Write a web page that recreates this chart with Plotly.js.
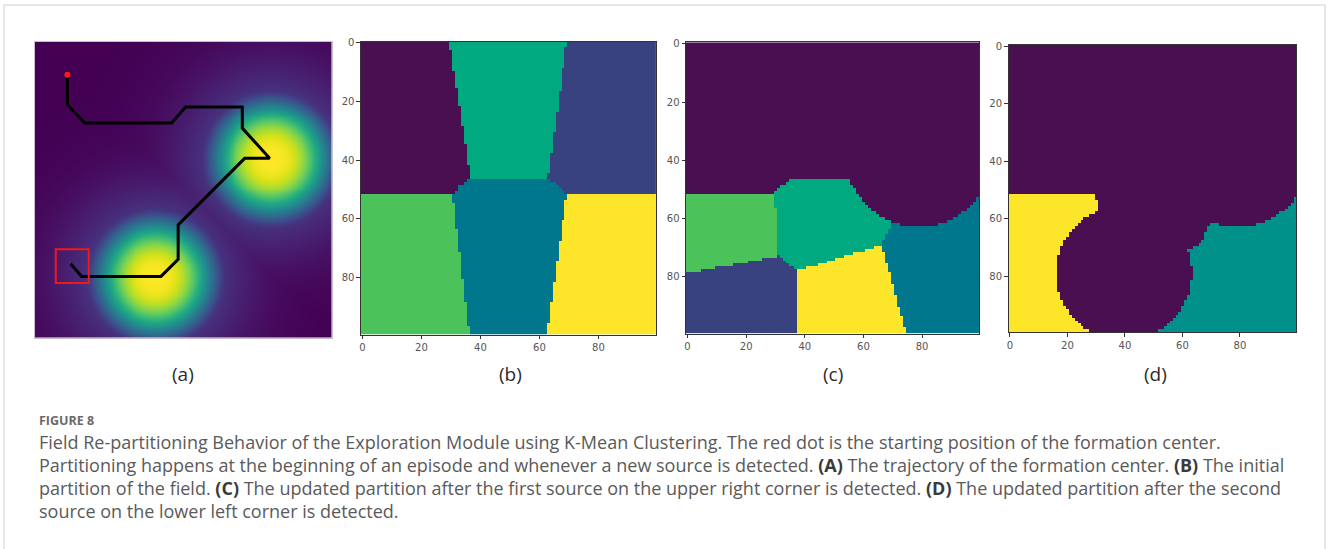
<!DOCTYPE html>
<html>
<head>
<meta charset="utf-8">
<script src="https://cdn.plot.ly/plotly-3.0.1.min.js"></script>
<style>
  html, body { margin: 0; padding: 0; background: #ffffff; }
  #fig { width: 1328px; height: 549px; }
</style>
</head>
<body>
<div id="fig"></div>
<script>
// ---- Panel (a): sources and formation-center trajectory (grid units, y grows downward) ----
const sourceX = [79, 40];
const sourceY = [39, 79];
const sourceSpread = [19, 19];
const sourceRadius = [22.5, 22.5];
const trajX = [10.5, 10.5, 16.4, 45.6, 50.3, 69.4, 69.4, 78.6, 70.2, 47.8, 47.8, 42.0, 15.3, 11.6];
const trajY = [10.7, 20.8, 27.0, 27.0, 21.6, 21.6, 28.7, 38.9, 38.9, 61.4, 73.0, 78.8, 78.8, 74.5];
const startX = [10.5];
const startY = [10.7];
const boxX = [6.6, 17.7];
const boxY = [69.6, 81.0];

// ---- Partition maps: cluster label painted by polygons / discs, later layers on top ----
const tickValues = [0, 20, 40, 60, 80];
const gridSize = 100;

// labels for (b) and (c): 0 purple, 1 blue, 2 teal, 3 sea-green, 4 green, 5 yellow
const paletteSix = ['#490f50', '#37427f', '#00778c', '#00a97f', '#4cc35a', '#fde52a'];
// labels for (d): 0 purple, 1 teal, 2 yellow
const paletteThree = ['#490f50', '#00918a', '#fde52a'];

const partitionB = [
  {label: 2, all: true},
  {label: 0, poly: [[-0.5, -0.5], [29.5, -0.5], [36.8, 46.3], [33.0, 49.0], [30.6, 51.5], [-0.5, 51.5]]},
  {label: 3, poly: [[29.5, -0.5], [69.3, -0.5], [62.8, 46.3], [36.8, 46.3]]},
  {label: 1, poly: [[69.3, -0.5], [99.5, -0.5], [99.5, 51.5], [69.3, 51.5], [66.0, 48.5], [62.8, 46.3]]},
  {label: 4, poly: [[-0.5, 51.5], [30.6, 51.5], [36.3, 99.5], [-0.5, 99.5]]},
  {label: 5, poly: [[69.3, 51.5], [99.5, 51.5], [99.5, 99.5], [62.4, 99.5]]}
];

const partitionC = [
  {label: 0, all: true},
  {label: 4, poly: [[-0.5, 51.5], [30.0, 51.5], [30.0, 56.5], [30.6, 73.0], [-0.5, 79.0]]},
  {label: 3, poly: [[29.5, 51.5], [31.6, 49.1], [35.2, 46.5], [56.0, 46.5], [70.0, 61.6], [66.4, 69.0],
                    [37.5, 78.1], [31.2, 73.0], [30.6, 73.0], [30.0, 56.5]]},
  {label: 1, poly: [[-0.5, 79.0], [30.6, 73.0], [31.2, 73.0], [37.5, 78.1], [37.3, 99.5], [-0.5, 99.5]]},
  {label: 5, poly: [[37.5, 78.1], [66.4, 69.0], [74.5, 99.5], [37.3, 99.5]]},
  {label: 2, poly: [[70.0, 61.6], [99.5, 45.0], [99.5, 99.5], [74.5, 99.5], [66.4, 69.0]]},
  {label: 0, disc: [79.0, 37.5, 25.3]}
];

const partitionD = [
  {label: 0, all: true},
  {label: 2, poly: [[-0.5, 51.5], [29.3, 51.5], [29.3, 53.5], [30.5, 54.0], [30.5, 58.0], [35.0, 62.0],
                    [35.0, 99.5], [-0.5, 99.5]]},
  {label: 1, poly: [[69.1, 61.9], [99.5, 45.0], [99.5, 99.5], [45.0, 99.5], [61.5, 71.0], [66.8, 68.3]]},
  {label: 0, disc: [79.0, 37.5, 25.3]},
  {label: 0, disc: [39.6, 79.0, 23.5]}
];

const panelLabels = ['(a)', '(b)', '(c)', '(d)'];

// ---- helpers ----
function insidePoly(px, py, poly) {
  let inside = false;
  for (let i = 0, j = poly.length - 1; i < poly.length; j = i++) {
    const xi = poly[i][0], yi = poly[i][1], xj = poly[j][0], yj = poly[j][1];
    if (((yi > py) !== (yj > py)) && (px < (xj - xi) * (py - yi) / (yj - yi) + xi)) inside = !inside;
  }
  return inside;
}

function rasterize(layers) {
  const z = [];
  for (let r = 0; r < gridSize; r++) {
    const row = [];
    for (let c = 0; c < gridSize; c++) {
      let v = 0;
      for (const L of layers) {
        if (L.all) v = L.label;
        else if (L.poly && insidePoly(c, r, L.poly)) v = L.label;
        else if (L.disc) {
          const dx = c - L.disc[0], dy = r - L.disc[1];
          if (dx * dx + dy * dy <= L.disc[2] * L.disc[2]) v = L.label;
        }
      }
      row.push(v);
    }
    z.push(row);
  }
  return z;
}

function stepScale(colors) {
  const n = colors.length - 1;
  return colors.map((c, i) => [i / n, c]);
}

// concentration field: flat-topped plume inside each source's detection radius,
// blending quickly into a faint residual tail outside it; strongest source wins
function fieldGrid() {
  const z = [];
  for (let r = 0; r < gridSize; r++) {
    const row = [];
    for (let c = 0; c < gridSize; c++) {
      let v = 0;
      for (let s = 0; s < sourceX.length; s++) {
        const dx = c - sourceX[s], dy = r - sourceY[s];
        const d = Math.sqrt(dx * dx + dy * dy);
        const core = Math.exp(-Math.pow(d / sourceSpread[s], 3));
        const tail = 0.28 * Math.exp(-Math.pow(d / (1.45 * sourceSpread[s]), 2));
        const w = 1 / (1 + Math.exp((d - sourceRadius[s]) / 0.7));
        v = Math.max(v, w * core + (1 - w) * tail);
      }
      row.push(v);
    }
    z.push(row);
  }
  return z;
}

const cells = Array.from({length: gridSize}, (_, i) => i);

// ---- traces ----
const traces = [
  {type: 'heatmap', x: cells, y: cells, z: fieldGrid(), colorscale: 'Viridis', zmin: 0, zmax: 1,
   zsmooth: 'best', showscale: false, xaxis: 'x', yaxis: 'y', hoverinfo: 'skip'},
  {type: 'scatter', mode: 'lines', x: trajX, y: trajY, xaxis: 'x', yaxis: 'y',
   line: {color: '#000000', width: 3}, hoverinfo: 'skip'},
  {type: 'scatter', mode: 'markers', x: startX, y: startY, xaxis: 'x', yaxis: 'y',
   marker: {color: '#ff1a1a', size: 6}, hoverinfo: 'skip'},
  {type: 'heatmap', x: cells, y: cells, z: rasterize(partitionB), colorscale: stepScale(paletteSix),
   zmin: 0, zmax: paletteSix.length - 1, showscale: false, xaxis: 'x2', yaxis: 'y2', hoverinfo: 'skip'},
  {type: 'heatmap', x: cells, y: cells, z: rasterize(partitionC), colorscale: stepScale(paletteSix),
   zmin: 0, zmax: paletteSix.length - 1, showscale: false, xaxis: 'x3', yaxis: 'y3', hoverinfo: 'skip'},
  {type: 'heatmap', x: cells, y: cells, z: rasterize(partitionD), colorscale: stepScale(paletteThree),
   zmin: 0, zmax: paletteThree.length - 1, showscale: false, xaxis: 'x4', yaxis: 'y4', hoverinfo: 'skip'}
];

// ---- layout (pixel boxes converted to paper fractions) ----
const W = 1328, H = 549;
const px = v => v / W;
const py = v => 1 - v / H;

const boxes = [
  {l: 34.7, r: 331.7, t: 41.7, b: 337.7},
  {l: 360.9, r: 656.0, t: 41.5, b: 334.5},
  {l: 686.0, r: 979.3, t: 42.3, b: 333.5},
  {l: 1008.5, r: 1296.0, t: 45.0, b: 332.0}
];

const tickFont = {family: 'DejaVu Sans, sans-serif', size: 10, color: '#555555'};

function xAxis(i) {
  const b = boxes[i];
  const ax = {domain: [px(b.l), px(b.r)], range: [-0.5, 99.5], anchor: i === 0 ? 'y' : 'y' + (i + 1),
    showgrid: false, zeroline: false, showline: true, mirror: true, linewidth: 1, fixedrange: true};
  if (i === 0) {
    Object.assign(ax, {linecolor: '#c9bdd0', showticklabels: false, ticks: ''});
  } else {
    Object.assign(ax, {linecolor: '#333333', ticks: 'outside', ticklen: 3.5, tickwidth: 1,
      tickcolor: '#333333', tickvals: tickValues, ticktext: tickValues.map(String), tickfont: tickFont});
  }
  return ax;
}
function yAxis(i) {
  const b = boxes[i];
  const ax = {domain: [py(b.b), py(b.t)], range: [99.5, -0.5], anchor: i === 0 ? 'x' : 'x' + (i + 1),
    showgrid: false, zeroline: false, showline: true, mirror: true, linewidth: 1, fixedrange: true};
  if (i === 0) {
    Object.assign(ax, {linecolor: '#c9bdd0', showticklabels: false, ticks: ''});
  } else {
    Object.assign(ax, {linecolor: '#333333', ticks: 'outside', ticklen: 3.5, tickwidth: 1,
      tickcolor: '#333333', tickvals: tickValues, ticktext: tickValues.map(String), tickfont: tickFont});
  }
  return ax;
}

const labelCenters = [183, 510, 833, 1155];
const captionFont = {family: 'Open Sans, Noto Sans, sans-serif', size: 18, color: '#5a5a5a'};
const captionLines = [
  'Field Re-partitioning Behavior of the Exploration Module using K-Mean Clustering. The red dot is the starting position of the formation center.',
  'Partitioning happens at the beginning of an episode and whenever a new source is detected. <b style="color:#3a3a3a">(A)</b> The trajectory of the formation center. <b style="color:#3a3a3a">(B)</b> The initial',
  'partition of the field. <b style="color:#3a3a3a">(C)</b> The updated partition after the first source on the upper right corner is detected. <b style="color:#3a3a3a">(D)</b> The updated partition after the second',
  'source on the lower left corner is detected.'
];
const captionRows = [442, 465, 488, 511];

const annotations = [];
panelLabels.forEach((t, i) => annotations.push({
  text: t, xref: 'paper', yref: 'paper', x: px(labelCenters[i]), y: py(374),
  xanchor: 'center', yanchor: 'middle', showarrow: false,
  font: {family: 'Open Sans, Noto Sans, sans-serif', size: 19, color: '#2b2b2b'}
}));
annotations.push({
  text: '<b>FIGURE 8</b>', xref: 'paper', yref: 'paper', x: px(37), y: py(420),
  xanchor: 'left', yanchor: 'middle', showarrow: false,
  font: {family: 'Open Sans, Noto Sans, sans-serif', size: 12.5, color: '#6a6a6a'}
});
captionLines.forEach((t, i) => annotations.push({
  text: t, xref: 'paper', yref: 'paper', x: px(37), y: py(captionRows[i]),
  xanchor: 'left', yanchor: 'middle', showarrow: false, font: captionFont
}));

const shapes = [
  // frame around the figure block (its lower edge lies below the page fold)
  {type: 'rect', xref: 'paper', yref: 'paper', x0: px(4), x1: px(1325), y0: py(570), y1: py(5),
   line: {color: '#cfcfcf', width: 1}, fillcolor: 'rgba(0,0,0,0)', layer: 'below'},
  // marker box around the final position
  {type: 'rect', xref: 'x', yref: 'y', x0: boxX[0], x1: boxX[1], y0: boxY[0], y1: boxY[1],
   line: {color: '#f01818', width: 2}, fillcolor: 'rgba(0,0,0,0)'}
];

const layout = {
  width: W, height: H, margin: {l: 0, r: 0, t: 0, b: 0},
  paper_bgcolor: '#ffffff', plot_bgcolor: '#ffffff', showlegend: false,
  annotations: annotations, shapes: shapes
};
for (let i = 0; i < 4; i++) {
  layout[i === 0 ? 'xaxis' : 'xaxis' + (i + 1)] = xAxis(i);
  layout[i === 0 ? 'yaxis' : 'yaxis' + (i + 1)] = yAxis(i);
}

Plotly.newPlot('fig', traces, layout, {staticPlot: true, displayModeBar: false});
</script>
</body>
</html>
